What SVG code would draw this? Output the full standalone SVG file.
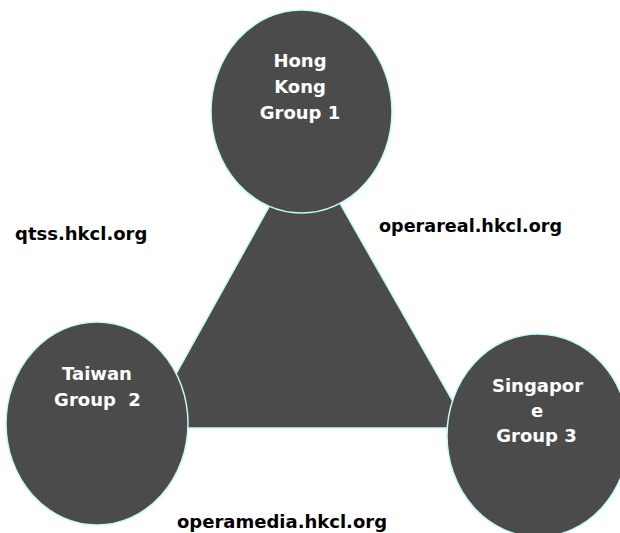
<svg xmlns="http://www.w3.org/2000/svg" width="620" height="533" viewBox="0 0 620 533">
<style>
.shape{fill:#4b4b4b;stroke:#c4fafa;stroke-width:1.5}
.nt{font-family:"DejaVu Sans",Verdana,sans-serif;font-weight:bold;font-size:18px;fill:#ffffff;text-anchor:middle}
.lb{font-family:"DejaVu Sans",Verdana,sans-serif;font-weight:bold;font-size:18px;fill:#000000}
</style>
<rect width="620" height="533" fill="#ffffff"/>
<g id="connectors">
<polygon class="shape" points="305,142 146,428 468,428"/>
</g>
<g id="node-hongkong">
<ellipse class="shape" cx="301.5" cy="111.5" rx="90.5" ry="101.5"/>
<text class="nt" x="300" y="67">Hong</text>
<text class="nt" x="300" y="93">Kong</text>
<text class="nt" x="300" y="119">Group 1</text>
</g>
<g id="node-taiwan">
<ellipse class="shape" cx="97" cy="423.5" rx="91" ry="101.5"/>
<text class="nt" x="97" y="380">Taiwan</text>
<text class="nt" x="97.5" y="406" xml:space="preserve">Group  2</text>
</g>
<g id="node-singapore">
<ellipse class="shape" cx="538" cy="435.5" rx="91" ry="101.5"/>
<text class="nt" x="537.5" y="392">Singapor</text>
<text class="nt" x="537" y="417">e</text>
<text class="nt" x="536.5" y="442">Group 3</text>
</g>
<g id="labels">
<text class="lb" x="15" y="240">qtss.hkcl.org</text>
<text class="lb" x="379" y="232" style="font-size:17.6px">operareal.hkcl.org</text>
<text class="lb" x="177" y="528">operamedia.hkcl.org</text>
</g>
</svg>
